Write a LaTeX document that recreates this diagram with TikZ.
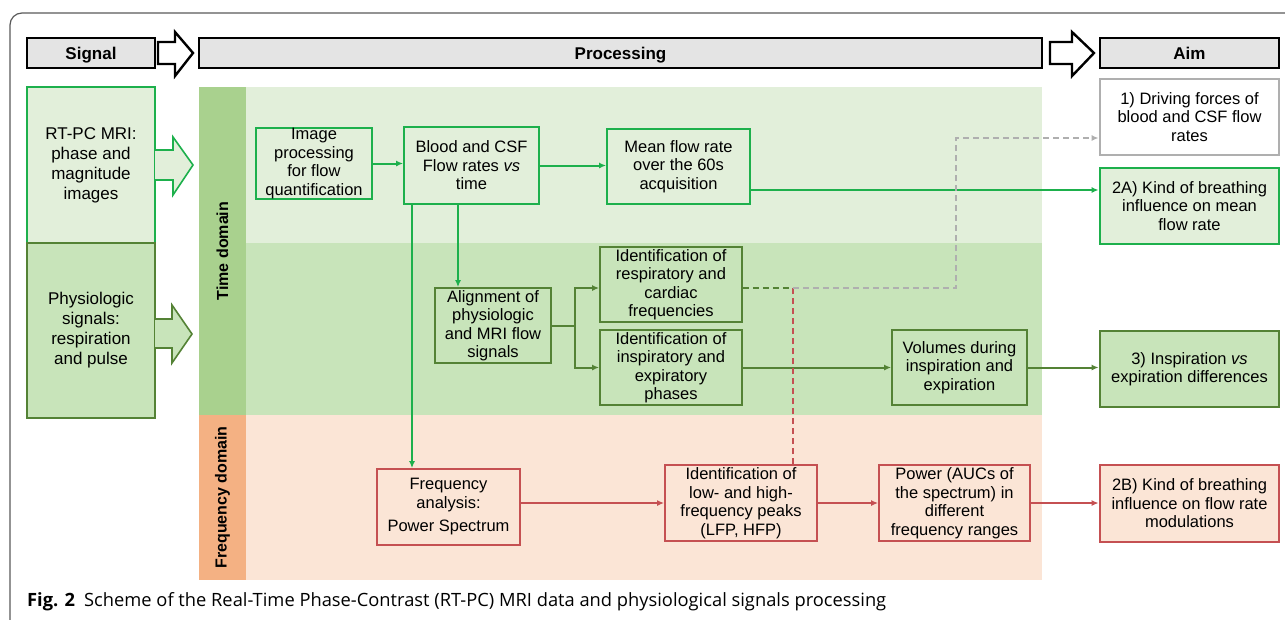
\documentclass[tikz,border=0pt]{standalone}
\usepackage{fontspec}
\setmainfont{Liberation Sans}
\newfontfamily\capfont{Open Sans}
\usepackage{tikz}
\usetikzlibrary{positioning,arrows.meta,calc}

\definecolor{hgray}{HTML}{E4E4E4}
\definecolor{lgreen}{HTML}{E2EFDA}
\definecolor{mgreen}{HTML}{C8E4BA}
\definecolor{dgreen}{HTML}{A9D18E}
\definecolor{dorange}{HTML}{F4B183}
\definecolor{peach}{HTML}{FBE5D6}
\definecolor{gbright}{HTML}{1DB04C}
\definecolor{gdark}{HTML}{548235}
\definecolor{rline}{HTML}{C55052}
\definecolor{gline}{HTML}{AFAFAF}

\begin{document}
\begin{tikzpicture}[x=1pt,y=-1pt,
    txt/.style={font=\fontsize{16.5}{18.5}\selectfont, align=center, inner sep=0pt},
    box/.style={txt, rectangle, draw, line width=1.8pt},
    aimbox/.style={txt, rectangle, draw, line width=2.8pt, minimum width=179, minimum height=76},
    hdr/.style={rectangle, draw=black, fill=hgray, line width=2.8pt, minimum height=30, inner sep=0pt, text depth=0pt, font=\fontsize{17}{20}\selectfont\bfseries},
    band/.style={rectangle, inner sep=0pt, rotate=90, minimum height=47, font=\fontsize{16}{18}\selectfont\bfseries},
    conn/.style={-{Latex[length=7pt,width=6pt]}, line width=2pt},
    dsh/.style={line width=2pt, dash pattern=on 6pt off 4pt},
    harrow/.style={draw=black, fill=white, line width=2.4pt, line join=miter}
]
\useasboundingbox (0,0) rectangle (1285,619);

\draw[black!65, line width=1.2pt, rounded corners=12pt] (10,625) -- (10,13) -- (1295,13);

\node[hdr, minimum width=128] (sig) at (91,53) {Signal};
\node[hdr, minimum width=843] (proc) at (620.5,53) {Processing};
\node[hdr, minimum width=179] (aim) at (1189.5,53) {Aim};
\draw[harrow] (158,42) -- (175,42) -- (175,32) -- (193,53) -- (175,76) -- (175,64) -- (158,64) -- cycle;
\draw[harrow] (1050,42) -- (1072,42) -- (1072,32) -- (1094,53) -- (1072,76) -- (1072,64) -- (1050,64) -- cycle;

\node[box, draw=gbright, fill=lgreen, minimum width=128, minimum height=156, font=\fontsize{17}{20}\selectfont] (mri) at (91,165) {RT-PC MRI:\\phase and\\magnitude\\images};
\node[box, draw=gdark, fill=mgreen, minimum width=128, minimum height=175, font=\fontsize{17}{20}\selectfont] (phys) at (91,330.5) {Physiologic\\signals:\\respiration\\and pulse};
\draw[draw=gbright, fill=lgreen, line width=1.6pt] (155,150) -- (173,150) -- (173,137) -- (193,165) -- (173,195) -- (173,180) -- (155,180);
\draw[draw=gdark, fill=mgreen, line width=1.6pt] (155,319) -- (172,319) -- (172,305) -- (192,334) -- (172,363) -- (172,348) -- (155,348);

\fill[lgreen] (246,87) rectangle (1042,243);
\fill[mgreen] (246,243) rectangle (1042,415);
\fill[peach] (246,415) rectangle (1042,580);
\node[band, fill=dgreen, minimum width=328] (tdom) at (222.5,251) {Time domain};
\node[band, fill=dorange, minimum width=165] (fdom) at (222.5,497.5) {Frequency domain};

\node[box, draw=gbright, minimum width=116, minimum height=71] (impr) at (314,163.5) {Image\\processing\\for flow\\quantification};
\node[box, draw=gbright, minimum width=135, minimum height=77] (rates) at (471.5,165.5) {Blood and CSF\\Flow rates \textit{vs}\\time};
\node[box, draw=gbright, minimum width=143, minimum height=75] (mean) at (678.5,166.5) {Mean flow rate\\over the 60s\\acquisition};

\node[box, draw=gdark, minimum width=116, minimum height=75] (align) at (493,325.5) {Alignment of\\physiologic\\and MRI flow\\signals};
\node[box, draw=gdark, minimum width=142, minimum height=75] (idrc) at (671,284.5) {Identification of\\respiratory and\\cardiac\\frequencies};
\node[box, draw=gdark, minimum width=142, minimum height=75] (idie) at (671,367.5) {Identification of\\inspiratory and\\expiratory\\phases};
\node[box, draw=gdark, minimum width=135, minimum height=75] (vol) at (959.5,367.5) {Volumes during\\inspiration and\\expiration};

\node[box, draw=rline, minimum width=143, minimum height=76] (fa) at (448.5,507) {Frequency\\analysis:\\[5pt]Power Spectrum};
\node[box, draw=rline, minimum width=152, minimum height=76] (peak) at (741,503) {Identification of\\low- and high-\\frequency peaks\\(LFP, HFP)};
\node[box, draw=rline, minimum width=151, minimum height=76] (pow) at (954.5,503) {Power (AUCs of\\the spectrum) in\\different\\frequency ranges};

\node[aimbox, draw=gline, fill=white] (drv) at (1189.5,117) {1) Driving forces of\\blood and CSF flow\\rates};
\node[aimbox, draw=gbright, fill=lgreen] (infA) at (1189.5,206) {2A) Kind of breathing\\influence on mean\\flow rate};
\node[aimbox, draw=gdark, fill=mgreen] (insp) at (1189.5,369) {3) Inspiration \textit{vs}\\expiration differences};
\node[aimbox, draw=rline, fill=peach, minimum height=77] (infB) at (1189.5,503.5) {2B) Kind of breathing\\influence on flow rate\\modulations};

\draw[conn, gbright] (impr.east) -- (impr.east -| rates.west);
\draw[conn, gbright] (rates.east) -- (rates.east -| mean.west);
\draw[conn, gbright] ([yshift=-23.5pt]mean.east) -- ([yshift=16pt]infA.west);
\draw[conn, gbright] ([xshift=-13.5pt]rates.south) -- ([xshift=-35pt]align.north);
\draw[conn, gbright] ([xshift=-59.5pt]rates.south) -- ([xshift=-36.5pt]fa.north);

\draw[conn, gdark] (align.east) -- ++(23,0) |- ([yshift=-3.5pt]idrc.west);
\draw[conn, gdark] (align.east) -- ++(23,0) |- (idie.west);
\draw[conn, gdark] (idie.east) -- (vol.west);
\draw[conn, gdark] (vol.east) -- (vol.east -| insp.west);

\draw[conn, rline] ([yshift=4pt]fa.east) -- (peak.west);
\draw[conn, rline] (peak.east) -- (pow.west);
\draw[conn, rline] (pow.east) -- (pow.east -| infB.west);

\coordinate (jn) at (793,288);
\coordinate (up) at (956,138);
\draw[dsh, gdark] ([yshift=-3.5pt]idrc.east) -- (jn);
\draw[dsh, rline] (peak.north -| jn) -- (jn);
\draw[dsh, gline, -{Latex[length=7pt,width=6pt]}] (jn) -| (up) -- (up -| drv.west);

\node[anchor=base west, inner sep=0pt, font=\capfont\fontsize{18.3}{21}\selectfont] (cap) at (27,606) {\textbf{Fig. 2}\hspace{9pt}Scheme of the Real-Time Phase-Contrast (RT-PC) MRI data and physiological signals processing};
\end{tikzpicture}
\end{document}
